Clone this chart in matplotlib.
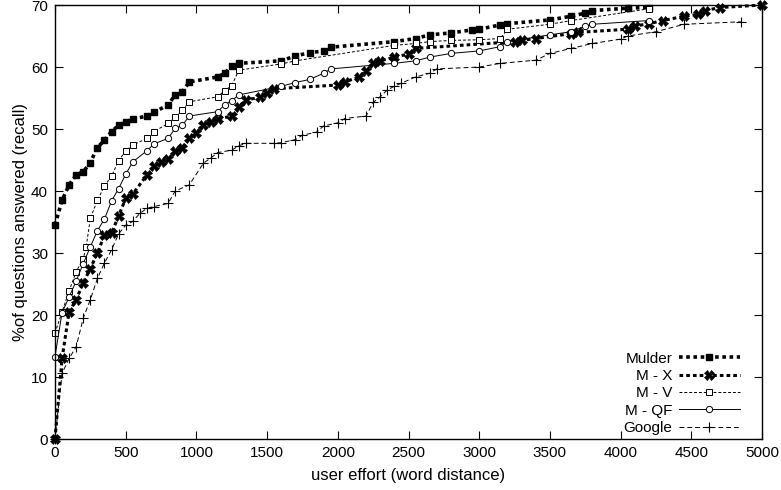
import numpy as np
import matplotlib.pyplot as plt

plt.rcParams['font.family'] = ['Liberation Sans', 'DejaVu Sans']

# word distance (x) and recall % (y) per system
mulder_x = [0, 50, 100, 150, 200, 250, 300, 350, 400, 450, 500, 550, 650, 700, 800, 850, 900, 950,
            1150, 1200, 1250, 1300, 1600, 1700, 1800, 1900, 1950, 2400, 2550, 2650, 2800, 2950, 3000,
            3150, 3200, 3500, 3650, 3750, 3800, 4050, 4200]
mulder_y = [34.5, 38.5, 41.0, 42.6, 43.1, 44.6, 47.0, 48.2, 49.6, 50.6, 51.2, 51.6, 52.1, 52.7, 53.9,
            55.5, 56.0, 57.6, 58.4, 59.0, 60.1, 60.6, 61.0, 61.8, 62.3, 62.6, 63.2, 64.1, 64.6, 65.2,
            65.5, 66.0, 66.1, 66.8, 67.0, 67.6, 68.2, 68.7, 69.1, 69.5, 69.6]

mx_x = [0, 50, 100, 150, 200, 250, 300, 350, 400, 450, 500, 550, 650, 700, 750, 800, 850, 900, 950,
        1000, 1050, 1100, 1150, 1250, 1300, 1350, 1450, 1500, 1550, 2000, 2050, 2150, 2200, 2250, 2300,
        2400, 2500, 2550, 3250, 3300, 3400, 3650, 3700, 4050, 4100, 4200, 4300, 4450, 4550, 4600, 4700, 5000]
mx_y = [0, 13.0, 20.5, 22.5, 25.2, 27.5, 30.0, 32.9, 33.2, 36.0, 38.8, 39.5, 42.6, 44.0, 44.7, 45.1,
        46.5, 47.0, 48.6, 49.3, 50.6, 51.2, 51.6, 52.1, 53.6, 54.7, 55.1, 55.8, 56.5, 57.1, 57.6, 58.4,
        59.3, 60.6, 61.0, 61.6, 62.1, 63.0, 64.1, 64.3, 64.6, 65.4, 65.6, 66.1, 66.6, 67.0, 67.5, 68.2,
        68.5, 69.1, 69.6, 70.0]

mv_x = [0, 50, 100, 150, 200, 220, 250, 300, 350, 400, 450, 500, 550, 650, 700, 800, 850, 900, 950,
        1150, 1200, 1250, 1300, 1600, 1700, 2400, 2550, 2650, 2800, 3000, 3150, 3200, 3500, 3650, 4200]
mv_y = [17.1, 20.5, 23.9, 27.0, 29.1, 30.9, 35.6, 38.5, 40.8, 42.4, 44.9, 46.5, 47.4, 48.5, 49.6, 50.9,
        51.9, 53.0, 54.4, 55.2, 56.2, 57.0, 59.5, 60.5, 61.0, 63.5, 63.8, 64.1, 64.3, 64.4, 64.6, 66.1,
        66.9, 67.5, 69.4]

mqf_x = [0, 50, 100, 150, 200, 250, 300, 350, 400, 450, 500, 550, 650, 700, 800, 850, 900, 950, 1150,
         1200, 1250, 1300, 1600, 1700, 1800, 1900, 1950, 2400, 2550, 2650, 2800, 3000, 3150, 3200, 3500,
         3650, 3750, 3800, 4200]
mqf_y = [13.3, 20.4, 22.9, 25.5, 28.3, 31.0, 33.6, 35.5, 38.4, 40.4, 42.7, 44.7, 46.5, 47.6, 48.5, 50.1,
         50.6, 52.1, 52.8, 53.9, 54.6, 55.5, 56.9, 57.5, 58.0, 59.0, 59.7, 60.6, 61.0, 61.6, 62.2, 62.6,
         63.3, 64.1, 65.2, 65.7, 66.6, 66.9, 67.5]

google_x = [0, 50, 100, 150, 200, 250, 300, 350, 400, 450, 500, 550, 600, 650, 700, 800, 850, 950, 1050,
            1100, 1150, 1250, 1300, 1350, 1550, 1600, 1700, 1750, 1850, 1900, 2000, 2050, 2200, 2250, 2300,
            2350, 2400, 2450, 2550, 2650, 2700, 3000, 3150, 3400, 3500, 3650, 3800, 4000, 4050, 4250, 4450, 4850]
google_y = [0, 10.6, 13.0, 14.9, 19.5, 22.5, 25.9, 28.4, 30.5, 33.1, 34.5, 35.1, 36.4, 37.2, 37.5, 38.0,
            40.0, 41.0, 44.5, 45.3, 46.2, 46.6, 47.3, 47.7, 47.7, 47.8, 48.3, 49.0, 49.5, 50.5, 51.0, 51.7,
            52.1, 54.3, 55.2, 56.3, 56.9, 57.4, 58.4, 59.0, 59.7, 60.0, 60.6, 61.1, 62.2, 63.0, 63.8, 64.5,
            65.0, 65.7, 66.9, 67.3]

fig = plt.figure(figsize=(7.81, 4.90), dpi=100)
ax = fig.add_axes([0.0704, 0.104, 0.9053, 0.8857])

ax.plot(mulder_x, mulder_y, color='black', lw=2.6, linestyle=(0, (1, 1)),
        marker='s', ms=5, mfc='black', label='Mulder', clip_on=False)
ax.plot(mx_x, mx_y, color='black', lw=2.2, linestyle=(0, (1.2, 1)),
        marker='X', ms=6.5, mfc='black', mew=0.5, label='M - X', clip_on=False)
ax.plot(mv_x, mv_y, color='black', lw=0.7, linestyle=(0, (3, 2)),
        marker='s', ms=4.5, mfc='white', mew=0.7, label='M - V', clip_on=False)
ax.plot(mqf_x, mqf_y, color='black', lw=0.7, linestyle='-',
        marker='o', ms=4.5, mfc='white', mew=0.7, label='M - QF', clip_on=False)
ax.plot(google_x, google_y, color='black', lw=0.7, linestyle=(0, (5, 3)),
        marker='+', ms=7, mew=0.8, label='Google', clip_on=False)

ax.set_xlim(0, 5000)
ax.set_ylim(0, 70)
ax.set_xticks(np.arange(0, 5001, 500))
ax.set_yticks(np.arange(0, 71, 10))
ax.tick_params(direction='in', length=6, width=0.8, top=True, right=True, labelsize=11, pad=5)
for s in ax.spines.values():
    s.set_linewidth(1)

ax.set_xlabel('user effort (word distance)', fontsize=12, labelpad=6)
ax.set_ylabel('%of questions answered (recall)', fontsize=12, labelpad=2)

ax.legend(loc='lower right', bbox_to_anchor=(0.977, -0.005), frameon=False, markerfirst=False,
          fontsize=11, handlelength=4, handletextpad=0.4, labelspacing=0.22, borderaxespad=0)

fig.savefig('out.png', dpi=100)
